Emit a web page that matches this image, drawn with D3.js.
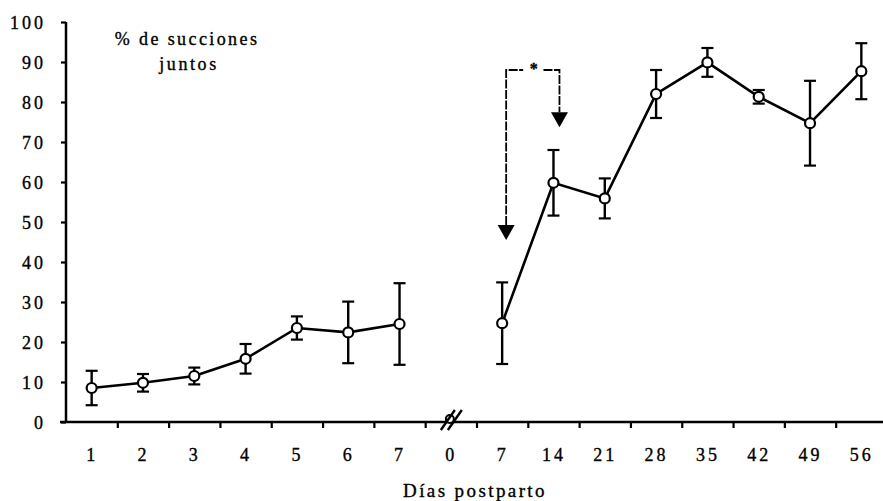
<!DOCTYPE html>
<html>
<head>
<meta charset="utf-8">
<script src="https://cdn.jsdelivr.net/npm/d3@7"></script>
<style>
  html, body { margin: 0; padding: 0; background: #fff; }
  svg text { font-family: "Liberation Serif", "Times New Roman", serif; fill: #000; stroke: #000; stroke-width: 0.35px; }
</style>
</head>
<body>
<svg id="chart" width="883" height="501"></svg>
<script>
// Day labels along the x axis (two periods separated by a break at "0")
const categories = ["1", "2", "3", "4", "5", "6", "7", "0", "7", "14", "21", "28", "35", "42", "49", "56"];
const yTicks = [0, 10, 20, 30, 40, 50, 60, 70, 80, 90, 100];

// First week (daily), category positions 0..6
const weekIdx = [0, 1, 2, 3, 4, 5, 6];
const weekMean = [8.5, 9.8, 11.5, 15.8, 23.5, 22.4, 24.5];
const weekErr = [4.3, 2.2, 2.1, 3.7, 2.9, 7.7, 10.2];

// Weekly measurements, category positions 8..15
const laterIdx = [8, 9, 10, 11, 12, 13, 14, 15];
const laterMean = [24.7, 59.8, 55.9, 82.0, 89.9, 81.3, 74.7, 87.7];
const laterErr = [10.2, 8.2, 5.0, 6.0, 3.6, 1.7, 10.6, 7.0];

// Significance bracket between day 7 and day 14
const bracketTop = 88;
const bracketStar = "*";
const arrowTipLeft = 45.5;
const arrowTipRight = 73.7;

const svg = d3.select("#chart");
const x = d3.scaleLinear().domain([0, categories.length]).range([66, 887]);
const y = d3.scaleLinear().domain([0, 100]).range([422, 22]);
const cx = i => x(i + 0.5);

const fontSize = 18;
const ls = "3px";

// Y axis
const yAxis = svg.append("g").attr("transform", `translate(${x(0)},0)`)
  .call(d3.axisLeft(y).tickValues(yTicks).tickSize(5).tickPadding(15));
yAxis.select(".domain").attr("stroke", "#000").attr("stroke-width", 2.5)
  .attr("d", `M0,${y(100)}V${y(0)}`);
yAxis.selectAll(".tick line").attr("stroke", "#000").attr("stroke-width", 2.2);
yAxis.selectAll(".tick text").attr("font-size", fontSize).attr("letter-spacing", ls)
  .attr("font-family", "Liberation Serif").attr("dy", "0.34em").attr("fill", "#000");

// X axis: tick marks on category boundaries
const xAxis = svg.append("g").attr("transform", `translate(0,${y(0)})`)
  .call(d3.axisBottom(x).tickValues(d3.range(1, categories.length)).tickSize(6).tickFormat(""));
xAxis.select(".domain").attr("stroke", "#000").attr("stroke-width", 2.5)
  .attr("d", `M${x(0) - 6},0H${883}`);
xAxis.selectAll(".tick line").attr("stroke", "#000").attr("stroke-width", 2.2);

// X labels centred in each category
const xLab = svg.append("g").attr("transform", `translate(0,${y(0)})`)
  .call(d3.axisBottom(x).tickValues(categories.map((c, i) => i + 0.5))
    .tickSize(0).tickPadding(26).tickFormat((d, i) => categories[i]));
xLab.select(".domain").remove();
xLab.selectAll(".tick text").attr("font-size", fontSize).attr("letter-spacing", ls)
  .attr("font-family", "Liberation Serif").attr("fill", "#000");

// Axis break at day 0
const bx = cx(7);
svg.append("circle").attr("cx", bx - 1).attr("cy", y(0) - 3).attr("r", 4)
  .attr("fill", "#fff").attr("stroke", "#000").attr("stroke-width", 2);
[[-10, 4], [-3, 11]].forEach(([a, b]) => {
  svg.append("line").attr("x1", bx + a).attr("y1", y(0) + 8).attr("x2", bx + b).attr("y2", y(0) - 12)
    .attr("stroke", "#000").attr("stroke-width", 2.4);
});

// Axis title and panel label
svg.append("text").attr("x", 475).attr("y", 497).attr("text-anchor", "middle")
  .attr("font-size", 19).attr("letter-spacing", "2.4px").text("Días postparto");
svg.append("text").attr("x", 187).attr("y", 45).attr("text-anchor", "middle")
  .attr("font-size", fontSize).attr("letter-spacing", "2.4px").text("% de succiones");
svg.append("text").attr("x", 189).attr("y", 70).attr("text-anchor", "middle")
  .attr("font-size", fontSize).attr("letter-spacing", "2.6px").text("juntos");

// Series with error bars
function drawSeries(idx, mean, err) {
  const pts = idx.map((d, k) => ({ i: d, m: mean[k], e: err[k] }));
  const g = svg.append("g");
  g.selectAll("line.err").data(pts).join("line")
    .attr("x1", d => cx(d.i)).attr("x2", d => cx(d.i))
    .attr("y1", d => y(d.m + d.e)).attr("y2", d => y(d.m - d.e))
    .attr("stroke", "#000").attr("stroke-width", 2.4);
  ["+", "-"].forEach(s => {
    g.selectAll("line.cap" + (s === "+" ? "p" : "m")).data(pts).join("line")
      .attr("x1", d => cx(d.i) - 6).attr("x2", d => cx(d.i) + 6)
      .attr("y1", d => y(s === "+" ? d.m + d.e : d.m - d.e))
      .attr("y2", d => y(s === "+" ? d.m + d.e : d.m - d.e))
      .attr("stroke", "#000").attr("stroke-width", 2.2);
  });
  g.append("path").datum(pts)
    .attr("d", d3.line().x(d => cx(d.i)).y(d => y(d.m)))
    .attr("fill", "none").attr("stroke", "#000").attr("stroke-width", 2.6);
  g.selectAll("circle").data(pts).join("circle")
    .attr("cx", d => cx(d.i)).attr("cy", d => y(d.m)).attr("r", 5)
    .attr("fill", "#fff").attr("stroke", "#000").attr("stroke-width", 2.2);
}
drawSeries(weekIdx, weekMean, weekErr);
drawSeries(laterIdx, laterMean, laterErr);

// Bracket with arrows marking the significant change
const xl = cx(8) + 4, xr = cx(9) + 6;
const yt = y(bracketTop);
const head = 15;
const ann = svg.append("g").attr("stroke", "#000").attr("fill", "none").attr("stroke-width", 1.8);
ann.append("path").attr("d", `M${xl},${y(arrowTipLeft) - head}V${yt}H${xl + 17}`).attr("stroke-dasharray", "9,1.5");
ann.append("path").attr("d", `M${xr - 16},${yt}H${xr}V${y(arrowTipRight) - head}`).attr("stroke-dasharray", "9,1.5");
[[xl, y(arrowTipLeft)], [xr, y(arrowTipRight)]].forEach(([ax, ay]) => {
  svg.append("path").attr("d", `M${ax - 8.5},${ay - head}H${ax + 8.5}L${ax},${ay}Z`).attr("fill", "#000");
});
svg.append("text").attr("x", (xl + xr) / 2 + 1).attr("y", yt + 4).attr("text-anchor", "middle")
  .attr("font-size", 16).attr("font-weight", "bold").text(bracketStar);
</script>
</body>
</html>
